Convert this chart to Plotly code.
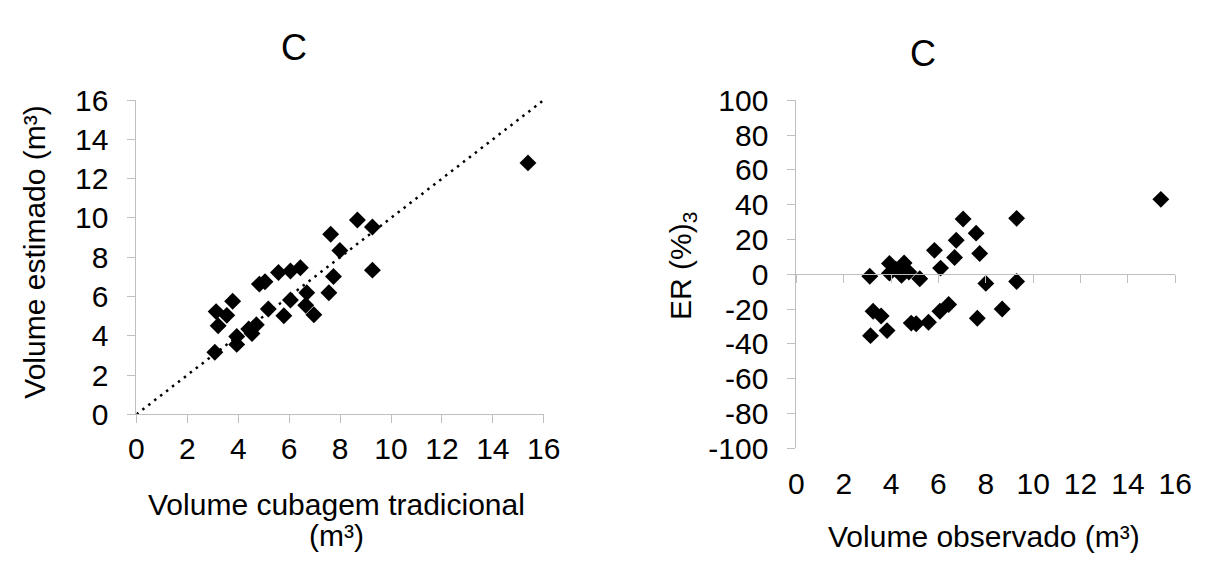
import plotly.graph_objects as go

# Left panel: estimated vs traditional volume
vol_trad = [15.38, 8.68, 9.27, 7.63, 7.99, 9.27, 7.74, 5.58, 6.05, 6.44, 4.83, 5.05, 7.56, 6.69, 6.05,
            3.78, 6.65, 6.97, 5.79, 5.18, 3.13, 3.55, 3.21, 4.71, 4.41, 4.54, 3.94, 3.94, 3.08]
vol_est = [12.8, 9.89, 9.54, 9.17, 8.34, 7.34, 7.02, 7.22, 7.30, 7.46, 6.63, 6.75, 6.19, 6.19, 5.82,
           5.76, 5.55, 5.07, 5.02, 5.36, 5.23, 5.04, 4.51, 4.56, 4.35, 4.11, 3.96, 3.56, 3.16]
line_x = [0, 16]
line_y = [0, 16]

# Right panel: relative error vs observed volume
vol_obs = [15.39, 7.04, 9.30, 7.59, 6.75, 7.74, 5.83, 6.68, 6.09, 3.93, 4.55, 3.93, 4.44, 4.75, 4.2,
           3.10, 5.21, 8.00, 9.30, 3.24, 3.58, 3.13, 3.83, 4.85, 5.06, 5.58, 6.06, 6.43, 7.64, 8.69]
er_pct = [43.1, 31.8, 32.2, 23.7, 19.6, 12.0, 13.8, 9.7, 3.6, 6.3, 6.6, 0.7, -0.5, 1.3, 3.0,
          -1.1, -2.5, -5.2, -4.1, -21.2, -23.9, -35.2, -32.3, -28.0, -28.4, -27.5, -21.2, -17.3, -25.2, -19.9]

x_ticks = [0, 2, 4, 6, 8, 10, 12, 14, 16]
y1_ticks = [0, 2, 4, 6, 8, 10, 12, 14, 16]
y2_ticks = [-100, -80, -60, -40, -20, 0, 20, 40, 60, 80, 100]
y2_labels = ["-100", "-80", "-60", "-40", "-20", "0", "20", "40", "60", "80", "100"]

# page is 1214x566; the browser adds an 8px body margin, so the figure is 16px smaller
OFF = 8
W, H = 1214 - 2 * OFF, 566 - 2 * OFF
FONT = "Liberation Sans, Arial, sans-serif"
AX = "#bfbfbf"

def px(x):
    return (x - OFF) / W

def py(y):
    return 1 - (y - OFF) / H

marker = dict(symbol="diamond", size=13, color="black", line=dict(width=0))

fig = go.Figure()
fig.add_trace(go.Scatter(x=line_x, y=line_y, mode="lines", xaxis="x", yaxis="y",
                         line=dict(color="black", width=2.5, dash="2.5px,5px"),
                         showlegend=False, hoverinfo="skip"))
fig.add_trace(go.Scatter(x=vol_trad, y=vol_est, mode="markers", xaxis="x", yaxis="y",
                         marker=marker, showlegend=False))
fig.add_trace(go.Scatter(x=vol_obs, y=er_pct, mode="markers", xaxis="x2", yaxis="y2",
                         marker=marker, showlegend=False))
# empty helper trace so the horizontal axis crossing at ER = 0 (x3) is drawn
fig.add_trace(go.Scatter(x=[None], y=[None], mode="markers", xaxis="x3", yaxis="y2",
                         showlegend=False, hoverinfo="skip"))

tickfont = dict(family=FONT, size=30, color="black")

fig.update_layout(
    width=W, height=H,
    margin=dict(l=0, r=0, t=0, b=0),
    paper_bgcolor="white", plot_bgcolor="white",
    font=dict(family=FONT, size=30, color="black"),
    xaxis=dict(domain=[px(131), px(547)], range=[0, 16], tickvals=x_ticks, anchor="y",
               showgrid=False, zeroline=False, showline=True, linecolor=AX, linewidth=1,
               ticks="outside", ticklen=8, tickcolor=AX, tickwidth=1,
               tickfont=tickfont, ticklabelstandoff=0),
    yaxis=dict(domain=[py(423), py(88)], range=[0, 16], tickvals=y1_ticks, anchor="x",
               showgrid=False, zeroline=False, showline=True, linecolor=AX, linewidth=1,
               ticks="outside", ticklen=8, tickcolor=AX, tickwidth=1,
               tickfont=tickfont, ticklabelstandoff=13),
    xaxis2=dict(domain=[px(805), px(1192)], range=[0, 16], tickvals=x_ticks, anchor="y2",
                showgrid=False, zeroline=False, showline=False, ticks="",
                tickfont=tickfont, ticklabelstandoff=15),
    xaxis3=dict(domain=[px(805), px(1192)], range=[0, 16], tickvals=x_ticks,
                overlaying="x2", anchor="free", position=(py(459.3) + py(88.3)) / 2,
                showgrid=False, zeroline=False, showline=True, linecolor=AX, linewidth=1,
                ticks="outside", ticklen=8, tickcolor=AX, tickwidth=1, showticklabels=False),
    yaxis2=dict(domain=[py(459.3), py(88.3)], range=[-100, 100], tickvals=y2_ticks,
                ticktext=y2_labels, anchor="x2",
                showgrid=False, zeroline=False, showline=True, linecolor=AX, linewidth=1,
                ticks="outside", ticklen=8, tickcolor=AX, tickwidth=1,
                tickfont=tickfont, ticklabelstandoff=13),
)

def ann(text, x, y, size=30, angle=0):
    fig.add_annotation(text=text, x=px(x), y=py(y), xref="paper", yref="paper",
                       showarrow=False, xanchor="center", yanchor="middle",
                       textangle=angle, font=dict(family=FONT, size=size, color="black"))

ann("C", 292, 32, size=36)
ann("C", 934, 38, size=36)
ann("Volume cubagem tradicional", 335, 519)
ann("(m³)", 335, 552)
ann("Volume observado (m³)", 997, 553)
ann("Volume estimado (m³)", 26, 250, angle=-90)
ann("ER (%)<sub>3</sub>", 688, 265, angle=-90)

fig.write_html("out.html", config={"displayModeBar": False})
